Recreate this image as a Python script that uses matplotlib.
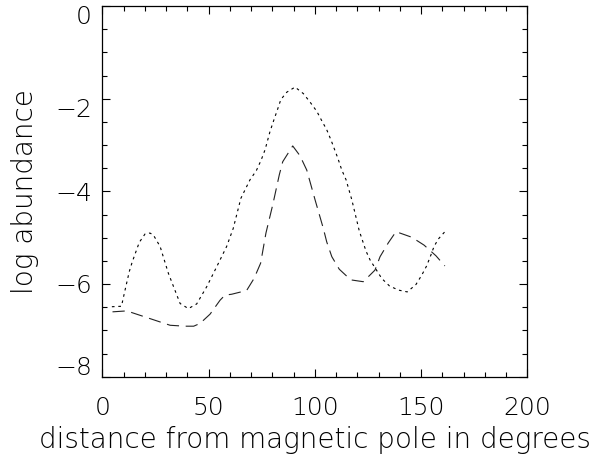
import matplotlib
matplotlib.use("Agg")
import matplotlib.pyplot as plt
from matplotlib.ticker import MultipleLocator

# dotted curve
dot_x = [4.5, 9.0, 10.7, 12.7, 14.1, 17.4, 20.1, 22.4, 24.0, 27.2, 31.1, 36.6, 40.5, 44.4,
         49.1, 53.8, 58.5, 61.6, 65.2, 69.5, 72.5, 74.7, 76.6, 78.9, 80.8, 82.4, 84.0, 86.8,
         90.7, 94.6, 97.7, 100.9, 103.2, 105.6, 107.6, 110.8, 112.7, 114.7, 117.4, 120.9,
         124.1, 126.0, 131.5, 135.1, 139.3, 143.5, 147.6, 150.3, 152.6, 154.5, 156.1, 158.1, 161.6]
dot_y = [-6.49, -6.48, -6.13, -5.73, -5.52, -5.10, -4.92, -4.90, -4.94, -5.19, -5.77, -6.42,
         -6.53, -6.43, -6.06, -5.63, -5.19, -4.80, -4.15, -3.75, -3.55, -3.33, -3.10, -2.71,
         -2.45, -2.24, -2.02, -1.86, -1.75, -1.89, -2.07, -2.27, -2.47, -2.67, -2.89, -3.28,
         -3.54, -3.75, -4.18, -4.85, -5.29, -5.48, -5.88, -6.04, -6.13, -6.17, -6.01, -5.81,
         -5.61, -5.39, -5.19, -5.03, -4.85]

# dashed curve
dash_x = [4.8, 11.5, 31.9, 38.9, 43.0, 46.0, 50.7, 55.4, 57.7, 60.9, 67.9, 71.4, 74.5, 77.0,
          80.2, 83.3, 84.9, 89.6, 93.0, 96.2, 100.1, 104.0, 105.6, 108.0, 111.5, 116.9, 122.8,
          128.3, 130.7, 134.6, 138.2, 145.6, 151.4, 157.0, 161.2]
dash_y = [-6.60, -6.58, -6.89, -6.91, -6.91, -6.85, -6.65, -6.35, -6.24, -6.22, -6.14, -5.88,
          -5.55, -4.90, -4.29, -3.64, -3.36, -3.02, -3.23, -3.54, -4.18, -4.80, -5.09, -5.41,
          -5.68, -5.91, -5.95, -5.70, -5.41, -5.11, -4.87, -4.99, -5.16, -5.39, -5.61]

x_ticks = [0, 50, 100, 150, 200]
y_ticks = [-8, -6, -4, -2, 0]
y_tick_labels = ['\u22128', '\u22126', '\u22124', '\u22122', '0']
# vertical pixel offsets of the y tick labels, as placed in the reference
y_label_offsets = [8.5, -2, -2.5, -11, -11]

plt.rcParams['font.family'] = ['DejaVu Sans']
fig = plt.figure(figsize=(5.98, 4.59), dpi=100)
ax = fig.add_axes([0.1711, 0.1793, 0.7107, 0.8076])

ax.plot(dot_x, dot_y, color='black', lw=0.8, dashes=(2.4, 3.4))
ax.plot(dash_x, dash_y, color='#222222', lw=0.8, dashes=(11, 6))

ax.set_xlim(0, 200)
ax.set_ylim(-8, 0)
ax.set_xticks(x_ticks)
ax.set_yticks(y_ticks)
ax.set_xticklabels([str(v) for v in x_ticks])
ax.set_yticklabels([])
ax.xaxis.set_minor_locator(MultipleLocator(10))
ax.yaxis.set_minor_locator(MultipleLocator(0.5))
ax.tick_params(which='both', direction='in', top=True, right=True, width=0.8, color='black')
ax.tick_params(which='major', length=6)
ax.tick_params(axis='x', which='major', labelsize=18, pad=14)
ax.tick_params(which='minor', length=3.5)
for sp in ax.spines.values():
    sp.set_linewidth(0.9)

for lab in ax.get_xticklabels():
    lab.set_fontweight('light')

for v, t, dy in zip(y_ticks, y_tick_labels, y_label_offsets):
    ax.annotate(t, xy=(0, v), xycoords=ax.get_yaxis_transform(), xytext=(-10.5, dy),
                textcoords='offset pixels', ha='right', va='center', fontsize=18,
                fontweight='light', annotation_clip=False)

ax.set_xlabel('distance from magnetic pole in degrees', fontsize=20, fontweight='light', labelpad=4)
ax.set_ylabel('log abundance', fontsize=20, fontweight='light')
ax.yaxis.set_label_coords(-0.15, 0.5)

fig.savefig('out.png', dpi=100)
